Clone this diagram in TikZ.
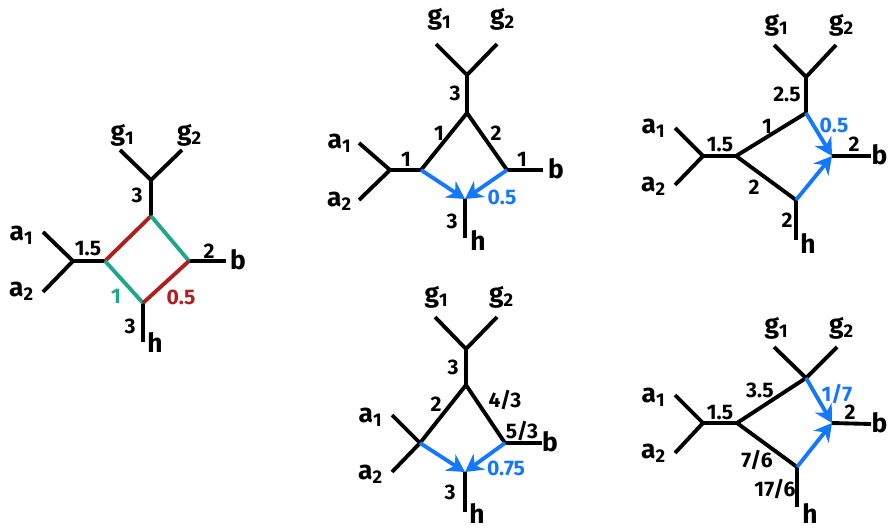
\documentclass[tikz,border=0pt]{standalone}
\usepackage{fontspec}
\setmainfont{Fira Sans}
\usetikzlibrary{arrows.meta}
\definecolor{loopred}{RGB}{178,30,30}
\definecolor{loopgreen}{RGB}{30,168,138}
\definecolor{flowblue}{RGB}{20,120,255}

\tikzset{
  leg/.style={line width=1.1pt},
  redleg/.style={leg, draw=loopred},
  greenleg/.style={leg, draw=loopgreen},
  flow/.style={leg, draw=flowblue, -{Stealth[length=5pt,width=5.5pt]}},
  ext/.style={font=\fontsize{7.5}{9}\selectfont\bfseries, inner sep=0pt},
  num/.style={font=\fontsize{6}{7}\selectfont\bfseries, inner sep=0pt},
  bluenum/.style={num, text=flowblue}
}

\begin{document}
\begin{tikzpicture}
    \useasboundingbox (0,0) rectangle (8.9,5.28);

    % box
    \coordinate (A-fa) at (0.73,2.67);
    \coordinate (A-ea1) at (0.43,2.96);
    \coordinate (A-ea2) at (0.43,2.36);
    \coordinate (A-vl) at (1.05,2.67);
    \coordinate (A-vt) at (1.51,3.12);
    \coordinate (A-vr) at (1.89,2.67);
    \coordinate (A-vb) at (1.43,2.25);
    \coordinate (A-fg) at (1.51,3.48);
    \coordinate (A-eg1) at (1.20,3.78);
    \coordinate (A-eg2) at (1.82,3.78);
    \coordinate (A-eb) at (2.26,2.67);
    \coordinate (A-eh) at (1.43,1.86);

    \draw[leg] (A-ea1) -- (A-fa) -- (A-ea2);
    \draw[leg] (A-fa) -- (A-vl);
    \draw[leg] (A-eg1) -- (A-fg) -- (A-eg2);
    \draw[leg] (A-fg) -- (A-vt);
    \draw[leg] (A-vr) -- (A-eb);
    \draw[leg] (A-vb) -- (A-eh);
    \draw[redleg] (A-vl) -- (A-vt);
    \draw[greenleg] (A-vt) -- (A-vr);
    \draw[greenleg] (A-vl) -- (A-vb);
    \draw[redleg] (A-vb) -- (A-vr);

    \node[ext] (A-la1) at (0.22,2.93) {a\textsubscript{1}};
    \node[ext] (A-la2) at (0.22,2.37) {a\textsubscript{2}};
    \node[ext] (A-lg1) at (1.23,3.93) {g\textsubscript{1}};
    \node[ext] (A-lg2) at (1.90,3.93) {g\textsubscript{2}};
    \node[ext] (A-lb) at (2.38,2.68) {b};
    \node[ext] (A-lh) at (1.55,1.85) {h};

    \node[num] (A-n1) at (1.37,3.33) {3};
    \node[num] (A-n2) at (0.88,2.79) {1.5};
    \node[num] (A-n3) at (2.09,2.77) {2};
    \node[num, text=loopgreen] (A-n4) at (1.16,2.32) {1};
    \node[num, text=loopred] (A-n5) at (1.81,2.31) {0.5};
    \node[num] (A-n6) at (1.30,2.02) {3};

    % triangle, top middle
    \coordinate (B-fa) at (3.90,3.58);
    \coordinate (B-ea1) at (3.59,3.85);
    \coordinate (B-ea2) at (3.59,3.28);
    \coordinate (B-vl) at (4.21,3.58);
    \coordinate (B-vt) at (4.67,4.15);
    \coordinate (B-vr) at (5.07,3.58);
    \coordinate (B-vb) at (4.65,3.29);
    \coordinate (B-fg) at (4.67,4.53);
    \coordinate (B-eg1) at (4.36,4.84);
    \coordinate (B-eg2) at (4.97,4.84);
    \coordinate (B-eb) at (5.43,3.58);
    \coordinate (B-eh) at (4.65,2.90);

    \draw[leg] (B-ea1) -- (B-fa) -- (B-ea2);
    \draw[leg] (B-fa) -- (B-vl);
    \draw[leg] (B-eg1) -- (B-fg) -- (B-eg2);
    \draw[leg] (B-fg) -- (B-vt);
    \draw[leg] (B-vl) -- (B-vt) -- (B-vr);
    \draw[leg] (B-vr) -- (B-eb);
    \draw[leg] (B-vb) -- (B-eh);
    \draw[flow] (B-vl) -- (B-vb);
    \draw[flow] (B-vr) -- (B-vb);

    \node[ext] (B-la1) at (3.40,3.85) {a\textsubscript{1}};
    \node[ext] (B-la2) at (3.40,3.27) {a\textsubscript{2}};
    \node[ext] (B-lg1) at (4.40,5.09) {g\textsubscript{1}};
    \node[ext] (B-lg2) at (5.03,5.09) {g\textsubscript{2}};
    \node[ext] (B-lb) at (5.56,3.59) {b};
    \node[ext] (B-lh) at (4.78,2.87) {h};

    \node[num] (B-n1) at (4.55,4.35) {3};
    \node[num] (B-n2) at (4.39,3.95) {1};
    \node[num] (B-n3) at (4.96,3.95) {2};
    \node[num] (B-n4) at (4.06,3.69) {1};
    \node[num] (B-n5) at (5.22,3.69) {1};
    \node[bluenum] (B-n6) at (5.02,3.31) {0.5};
    \node[num] (B-n7) at (4.52,3.07) {3};

    % triangle, top right
    \coordinate (C-fa) at (7.03,3.72);
    \coordinate (C-ea1) at (6.75,4.00);
    \coordinate (C-ea2) at (6.75,3.43);
    \coordinate (C-vl) at (7.36,3.72);
    \coordinate (C-vt) at (8.06,4.15);
    \coordinate (C-vr) at (8.32,3.72);
    \coordinate (C-vb) at (7.96,3.28);
    \coordinate (C-fg) at (8.06,4.51);
    \coordinate (C-eg1) at (7.74,4.83);
    \coordinate (C-eg2) at (8.36,4.83);
    \coordinate (C-eb) at (8.71,3.72);
    \coordinate (C-eh) at (7.96,2.88);

    \draw[leg] (C-ea1) -- (C-fa) -- (C-ea2);
    \draw[leg] (C-fa) -- (C-vl);
    \draw[leg] (C-eg1) -- (C-fg) -- (C-eg2);
    \draw[leg] (C-fg) -- (C-vt);
    \draw[leg] (C-vt) -- (C-vl) -- (C-vb);
    \draw[leg] (C-vr) -- (C-eb);
    \draw[leg] (C-vb) -- (C-eh);
    \draw[flow] (C-vt) -- (C-vr);
    \draw[flow] (C-vb) -- (C-vr);

    \node[ext] (C-la1) at (6.54,4.00) {a\textsubscript{1}};
    \node[ext] (C-la2) at (6.54,3.42) {a\textsubscript{2}};
    \node[ext] (C-lg1) at (7.77,5.03) {g\textsubscript{1}};
    \node[ext] (C-lg2) at (8.42,5.03) {g\textsubscript{2}};
    \node[ext, anchor=east] (C-lb) at (8.88,3.73) {b};
    \node[ext] (C-lh) at (8.08,2.84) {h};

    \node[num] (C-n1) at (7.87,4.34) {2.5};
    \node[num] (C-n2) at (7.20,3.83) {1.5};
    \node[num] (C-n3) at (7.67,4.02) {1};
    \node[bluenum] (C-n4) at (8.34,4.03) {0.5};
    \node[num] (C-n5) at (8.54,3.84) {2};
    \node[num] (C-n6) at (7.54,3.41) {2};
    \node[num] (C-n7) at (7.87,3.08) {2};

    % triangle, bottom middle
    \coordinate (D-vl) at (4.20,0.85);
    \coordinate (D-ea1) at (3.92,1.13);
    \coordinate (D-ea2) at (3.92,0.56);
    \coordinate (D-vt) at (4.66,1.43);
    \coordinate (D-vr) at (5.05,0.85);
    \coordinate (D-vb) at (4.65,0.56);
    \coordinate (D-fg) at (4.66,1.79);
    \coordinate (D-eg1) at (4.35,2.11);
    \coordinate (D-eg2) at (4.97,2.11);
    \coordinate (D-eb) at (5.42,0.85);
    \coordinate (D-eh) at (4.65,0.16);

    \draw[leg] (D-ea1) -- (D-vl) -- (D-ea2);
    \draw[leg] (D-eg1) -- (D-fg) -- (D-eg2);
    \draw[leg] (D-fg) -- (D-vt);
    \draw[leg] (D-vl) -- (D-vt) -- (D-vr);
    \draw[leg] (D-vr) -- (D-eb);
    \draw[leg] (D-vb) -- (D-eh);
    \draw[flow] (D-vl) -- (D-vb);
    \draw[flow] (D-vr) -- (D-vb);

    \node[ext] (D-la1) at (3.71,1.11) {a\textsubscript{1}};
    \node[ext] (D-la2) at (3.71,0.54) {a\textsubscript{2}};
    \node[ext] (D-lg1) at (4.37,2.31) {g\textsubscript{1}};
    \node[ext] (D-lg2) at (5.02,2.31) {g\textsubscript{2}};
    \node[ext] (D-lb) at (5.50,0.86) {b};
    \node[ext] (D-lh) at (4.77,0.15) {h};

    \node[num] (D-n1) at (4.53,1.61) {3};
    \node[num] (D-n2) at (4.36,1.24) {2};
    \node[num] (D-n3) at (5.05,1.28) {4/3};
    \node[num] (D-n4) at (5.22,0.97) {5/3};
    \node[bluenum] (D-n5) at (5.06,0.60) {0.75};
    \node[num] (D-n6) at (4.50,0.36) {3};

    % triangle, bottom right
    \coordinate (E-fa) at (7.03,1.05);
    \coordinate (E-ea1) at (6.75,1.33);
    \coordinate (E-ea2) at (6.75,0.75);
    \coordinate (E-vl) at (7.37,1.05);
    \coordinate (E-vt) at (8.06,1.50);
    \coordinate (E-vr) at (8.32,1.05);
    \coordinate (E-vb) at (7.97,0.61);
    \coordinate (E-eg1) at (7.74,1.81);
    \coordinate (E-eg2) at (8.37,1.81);
    \coordinate (E-eb) at (8.71,1.04);
    \coordinate (E-eh) at (7.97,0.21);

    \draw[leg] (E-ea1) -- (E-fa) -- (E-ea2);
    \draw[leg] (E-fa) -- (E-vl);
    \draw[leg] (E-eg1) -- (E-vt) -- (E-eg2);
    \draw[leg] (E-vt) -- (E-vl) -- (E-vb);
    \draw[leg] (E-vr) -- (E-eb);
    \draw[leg] (E-vb) -- (E-eh);
    \draw[flow] (E-vt) -- (E-vr);
    \draw[flow] (E-vb) -- (E-vr);

    \node[ext] (E-la1) at (6.54,1.31) {a\textsubscript{1}};
    \node[ext] (E-la2) at (6.54,0.75) {a\textsubscript{2}};
    \node[ext] (E-lg1) at (7.77,2.00) {g\textsubscript{1}};
    \node[ext] (E-lg2) at (8.42,2.00) {g\textsubscript{2}};
    \node[ext, anchor=east] (E-lb) at (8.88,1.05) {b};
    \node[ext] (E-lh) at (8.10,0.14) {h};

    \node[num] (E-n1) at (7.60,1.38) {3.5};
    \node[num] (E-n2) at (7.20,1.15) {1.5};
    \node[bluenum] (E-n3) at (8.37,1.34) {1/7};
    \node[num] (E-n4) at (8.50,1.16) {2};
    \node[num] (E-n5) at (7.57,0.68) {7/6};
    \node[num] (E-n6) at (7.75,0.39) {17/6};

\end{tikzpicture}
\end{document}
